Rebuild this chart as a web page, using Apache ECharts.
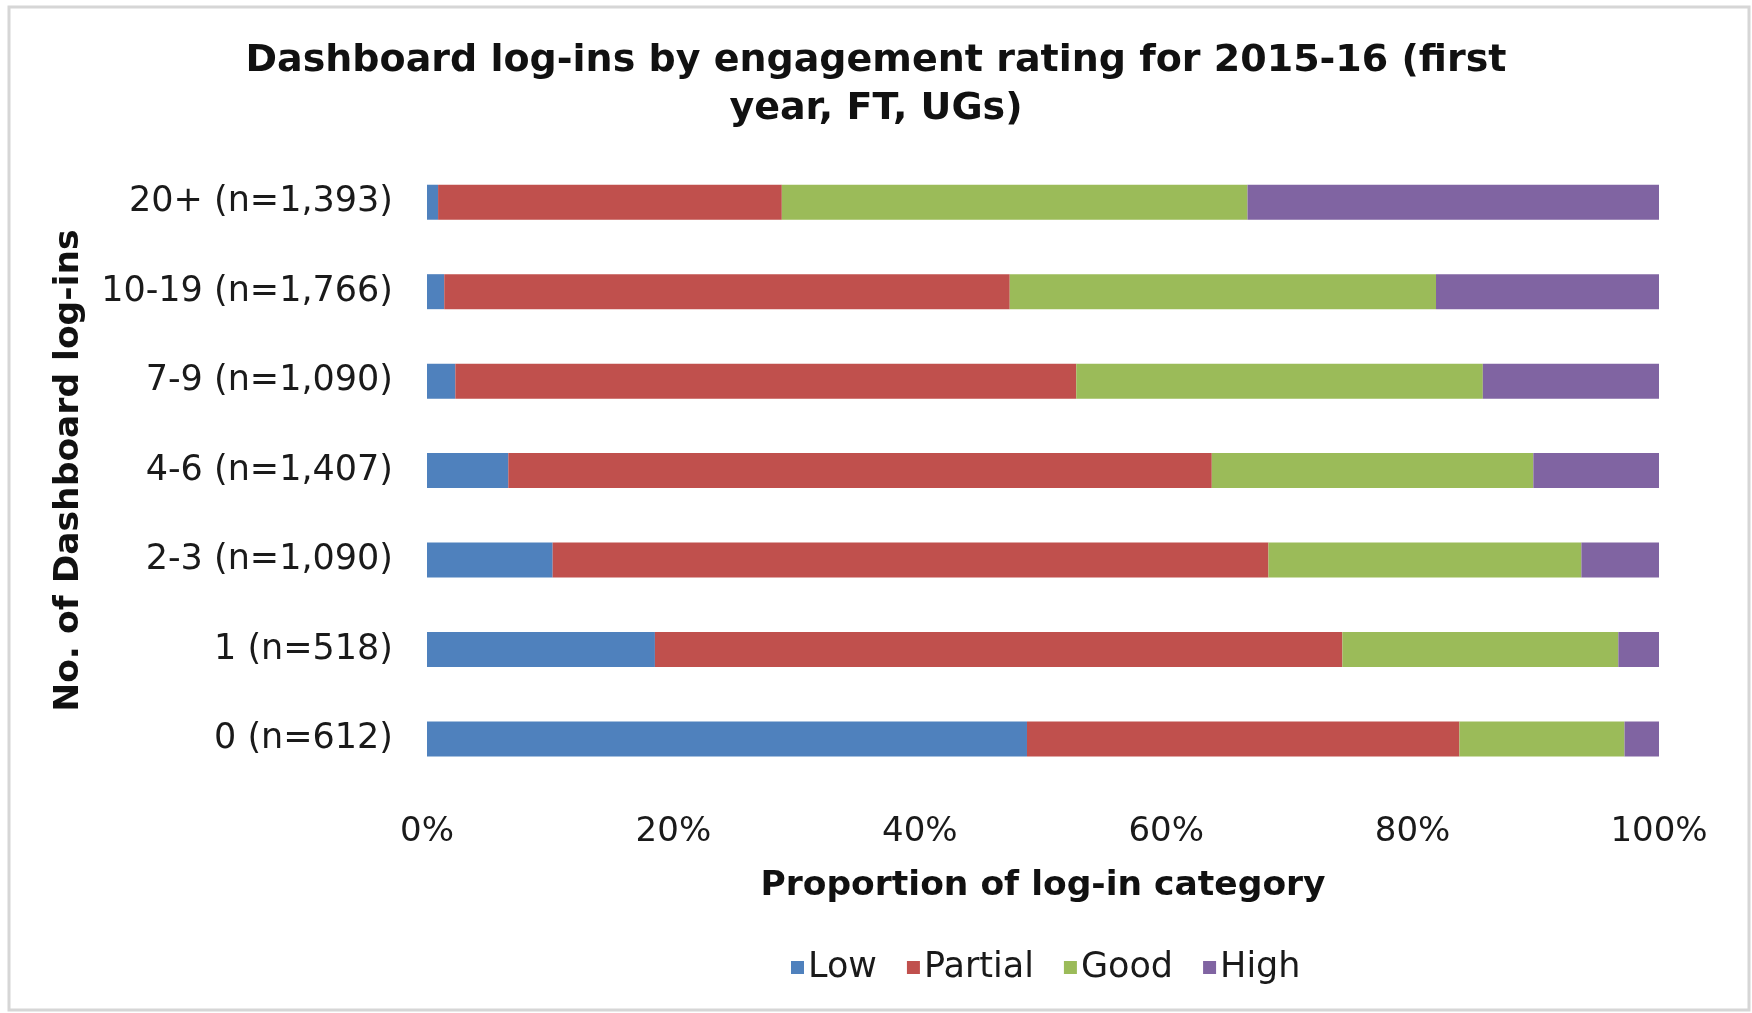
<!DOCTYPE html>
<html>
<head>
<meta charset="utf-8">
<script src="https://cdn.jsdelivr.net/npm/echarts@6/dist/echarts.min.js"></script>
<style>
html,body{margin:0;padding:0;background:#fff;}
#chart{width:1752px;height:1013px;}
</style>
</head>
<body>
<div id="chart"></div>
<script>
const categories = ['0 (n=612)', '1 (n=518)', '2-3 (n=1,090)', '4-6 (n=1,407)', '7-9 (n=1,090)', '10-19 (n=1,766)', '20+ (n=1,393)'];
const seriesNames = ['Low', 'Partial', 'Good', 'High'];
const low = [48.7, 18.5, 10.2, 6.6, 2.3, 1.4, 0.9];
const partial = [35.1, 55.8, 58.1, 57.1, 50.4, 45.9, 27.9];
const good = [13.4, 22.4, 25.4, 26.1, 33.0, 34.6, 37.8];
const high = [2.8, 3.3, 6.3, 10.2, 14.3, 18.1, 33.4];
const xTicks = [0, 20, 40, 60, 80, 100];

const colors = ['#4F81BD', '#C0504D', '#9BBB59', '#8064A2'];
const FONT = '"DejaVu Sans", Verdana, sans-serif';
const values = [low, partial, good, high];

const chart = echarts.init(document.getElementById('chart'), null, {renderer: 'canvas'});
chart.setOption({
  animation: false,
  backgroundColor: '#ffffff',
  textStyle: {fontFamily: FONT, color: '#1a1a1a'},
  graphic: [{
    type: 'rect', shape: {x: 9, y: 7, width: 1740, height: 1003},
    style: {fill: 'none', stroke: '#d6d6d6', lineWidth: 3}, silent: true, z: -10
  }],
  title: {
    text: 'Dashboard log-ins by engagement rating for 2015-16 (first\nyear, FT, UGs)',
    left: 'center', top: 37, padding: 0,
    textStyle: {fontFamily: FONT, fontSize: 38, fontWeight: 'bold', color: '#111', lineHeight: 48}
  },
  legend: {
    data: seriesNames, left: 786, top: 945, orient: 'horizontal',
    itemWidth: 13, itemHeight: 13, itemGap: 30,
    icon: 'rect',
    textStyle: {fontFamily: FONT, fontSize: 35, color: '#1a1a1a', padding: [0, 0, 0, -1]}
  },
  grid: {left: 427, right: 93, top: 157.5, bottom: 229.3, containLabel: false},
  xAxis: {
    type: 'value', min: xTicks[0], max: xTicks[xTicks.length - 1], interval: 20,
    name: 'Proportion of log-in category', nameLocation: 'middle', nameGap: 85,
    nameTextStyle: {fontFamily: FONT, fontSize: 34.5, fontWeight: 'bold', color: '#111'},
    axisLine: {show: false}, axisTick: {show: false}, splitLine: {show: false},
    axisLabel: {formatter: '{value}%', margin: 31, fontFamily: FONT, fontSize: 34, color: '#1a1a1a'}
  },
  yAxis: {
    type: 'category', data: categories,
    name: 'No. of Dashboard log-ins', nameLocation: 'middle', nameRotate: 90, nameGap: 340,
    nameTextStyle: {fontFamily: FONT, fontSize: 34.5, fontWeight: 'bold', color: '#111'},
    axisLine: {show: false}, axisTick: {show: false}, splitLine: {show: false},
    axisLabel: {margin: 34, fontFamily: FONT, fontSize: 35, color: '#1a1a1a'}
  },
  series: seriesNames.map((n, i) => ({
    name: n, type: 'bar', stack: 'total', barWidth: 35,
    itemStyle: {color: colors[i]},
    data: values[i]
  }))
});
</script>
</body>
</html>
